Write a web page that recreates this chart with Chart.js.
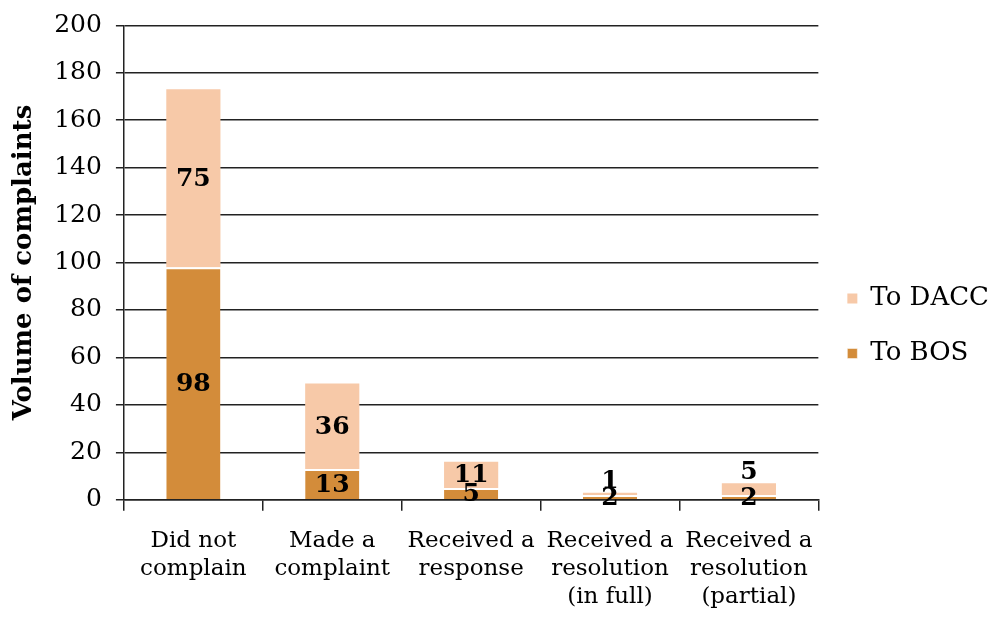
<!DOCTYPE html>
<html><head><meta charset="utf-8">
<script src="https://cdn.jsdelivr.net/npm/chart.js@4.4.0/dist/chart.umd.min.js"></script>
<style>html,body{margin:0;padding:0;background:#fff}#wrap{width:999px;height:624px}</style>
</head><body><div id="wrap"><canvas id="c" width="999" height="624"></canvas></div>
<script>
const categories = [["Did not","complain"],["Made a","complaint"],["Received a","response"],["Received a","resolution","(in full)"],["Received a","resolution","(partial)"]];
const toBOS = [98, 13, 5, 2, 2];
const toDACC = [75, 36, 11, 1, 5];
const yMin = 0, yMax = 200, yStep = 20;
const seriesNames = ["To BOS", "To DACC"];

const FONT = '"DejaVu Serif", serif';

const labelPlugin = {
  id: 'segLabels',
  afterDatasetsDraw(chart) {
    const ctx = chart.ctx;
    ctx.save();
    ctx.font = 'bold 25px ' + FONT;
    ctx.fillStyle = '#000';
    ctx.textAlign = 'center';
    ctx.textBaseline = 'middle';
    const n = chart.data.datasets.length;
    chart.data.datasets.forEach((ds, di) => {
      const meta = chart.getDatasetMeta(di);
      meta.data.forEach((bar, i) => {
        const h = Math.abs(bar.base - bar.y);
        let y = (bar.y + bar.base) / 2 + 1;
        if (di === n - 1 && h < 14) y = bar.y - 11;
        ctx.fillText(String(ds.data[i]), bar.x, y);
      });
    });
    ctx.restore();
  }
};

new Chart(document.getElementById('c'), {
  type: 'bar',
  data: {
    labels: categories,
    datasets: [
      { label: seriesNames[0], data: toBOS, backgroundColor: '#D38C3A', borderColor: '#ffffff', borderWidth: {top: 2}, borderSkipped: false, barPercentage: 0.39, categoryPercentage: 1 },
      { label: seriesNames[1], data: toDACC, backgroundColor: '#F7C9A8', borderColor: '#ffffff', borderWidth: 0, barPercentage: 0.39, categoryPercentage: 1 }
    ]
  },
  options: {
    responsive: false,
    animation: false,
    layout: { padding: { top: 0, right: 0, left: 0, bottom: 0 } },
    plugins: {
      legend: {
        position: 'right',
        reverse: true,
        title: { display: true, text: ' ', font: { size: 10 }, padding: 8 },
        labels: { font: { family: FONT, size: 26 }, color: '#000', boxWidth: 10, boxHeight: 10, padding: 29 }
      },
      tooltip: { enabled: false }
    },
    scales: {
      x: {
        stacked: true,
        afterFit: (s) => { s.height -= 3; },
        grid: { offset: true, drawOnChartArea: false, color: '#222', lineWidth: 1.5, tickLength: 11 },
        border: { color: '#222', width: 1.5 },
        ticks: { font: { family: FONT, size: 23, lineHeight: 1.22 }, color: '#000', padding: 16, maxRotation: 0, autoSkip: false }
      },
      y: {
        stacked: true,
        min: yMin, max: yMax,
        ticks: { stepSize: yStep, font: { family: FONT, size: 25, lineHeight: 0.9 }, color: '#000', padding: 14 },
        grid: { color: '#222', lineWidth: 1.5, tickLength: 8 },
        border: { color: '#222', width: 1.5 },
        title: { display: true, text: 'Volume of complaints', font: { family: FONT, size: 26, weight: 'bold' }, color: '#000', padding: { top: 9, bottom: 0 } }
      }
    }
  },
  plugins: [labelPlugin]
});
</script></body></html>
